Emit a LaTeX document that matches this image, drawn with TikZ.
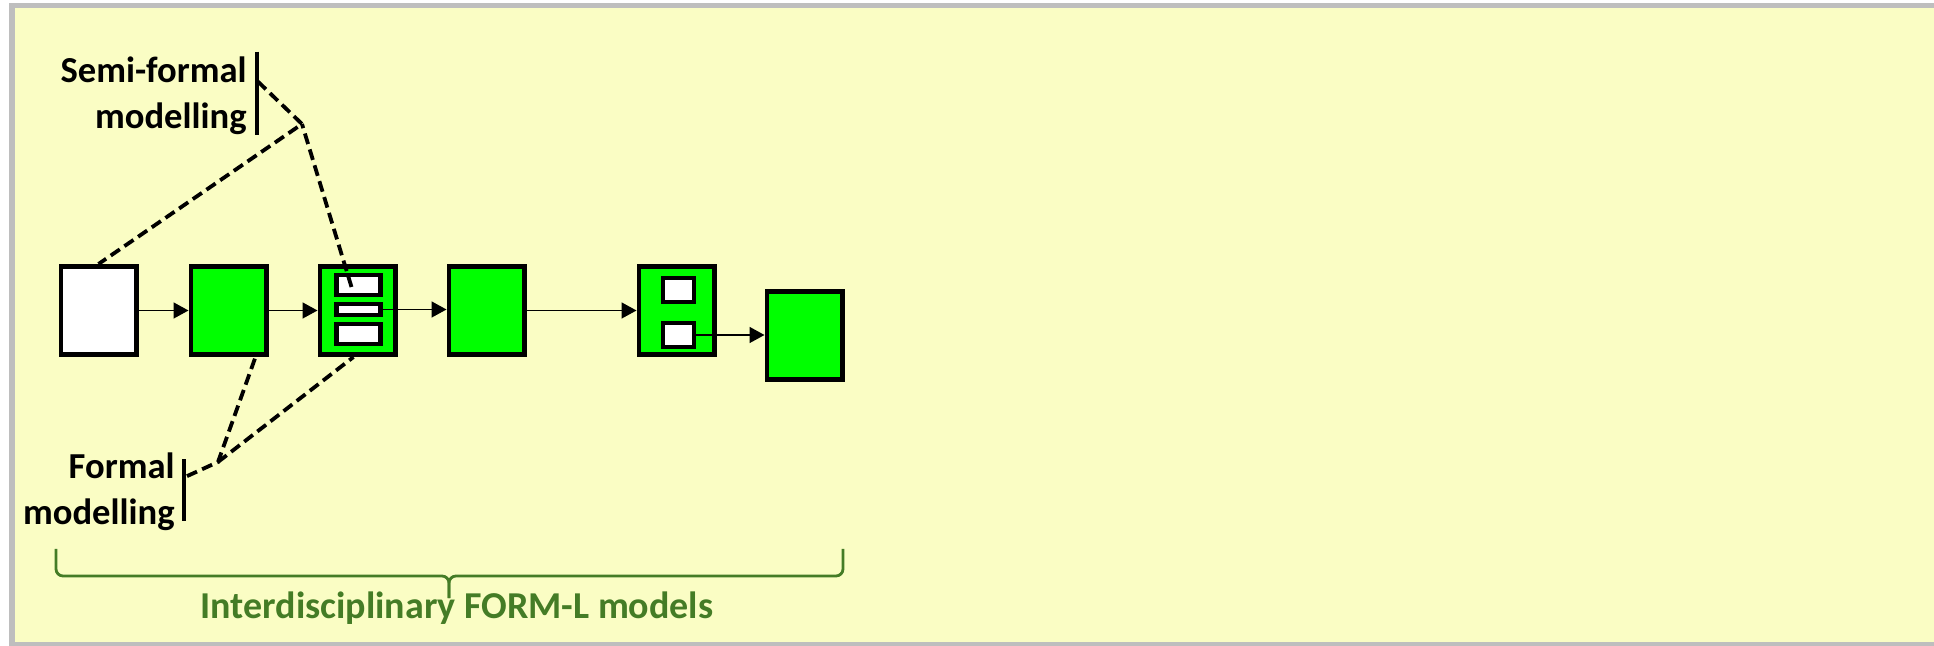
\documentclass[tikz,border=0pt]{standalone}
\usepackage{fontspec}
\setmainfont{Carlito}
\usepackage{xcolor}
\usepackage{tikz}
\usetikzlibrary{arrows.meta,positioning}

\definecolor{paper}{RGB}{250,253,196}
\definecolor{frame}{RGB}{190,190,190}
\definecolor{boxgreen}{RGB}{0,255,0}
\definecolor{spangreen}{RGB}{68,124,38}

\begin{document}
\begin{tikzpicture}[
    x=0.5pt,
    y=-0.5pt,
    modelbox/.style={
        draw=black,
        line width=2.3pt,
        fill=boxgreen,
        minimum width=37.7pt,
        minimum height=44.2pt,
        inner sep=0pt
    },
    slot/.style={
        draw=black,
        line width=2.1pt,
        fill=white,
        inner sep=0pt
    },
    flow/.style={
        line width=0.8pt,
        -{Triangle[length=7.5pt,width=8pt]}
    },
    annot/.style={
        line width=1.9pt,
        dash pattern=on 5.5pt off 2.8pt
    },
    levelbar/.style={line width=1.8pt},
    levellabel/.style={
        align=right,
        anchor=east,
        inner sep=0pt,
        font=\fontsize{18.3}{23}\selectfont\bfseries
    }
]

% ---------------------------------------------------------
% Page frame
% ---------------------------------------------------------

\useasboundingbox (0,0) rectangle (1934,646);
\clip (0,0) rectangle (1934,646);

\draw[fill=paper,draw=frame,line width=2.9pt]
    (12,5.5) rectangle (1945,644.5);

% ---------------------------------------------------------
% Model chain
% ---------------------------------------------------------

\node[modelbox,fill=white] (m1) at (98.5,310.5) {};
\node[modelbox,right=25pt of m1] (m2) {};
\node[modelbox,right=24.5pt of m2] (m3) {};
\node[modelbox,right=24.5pt of m3] (m4) {};
\node[modelbox,right=55pt of m4] (m5) {};
\node[modelbox,right=24pt of m5,yshift=-12.5pt] (m6) {};

% sub-models in m3
\node[slot,minimum width=22pt,minimum height=10pt]
    (m3a) at ([xshift=0.5pt,yshift=12.75pt]m3.center) {};
\node[slot,minimum width=22pt,minimum height=5.5pt]
    (m3b) at ([xshift=0.5pt,yshift=0.5pt]m3.center) {};
\node[slot,minimum width=22pt,minimum height=10pt]
    (m3c) at ([xshift=0.5pt,yshift=-11.75pt]m3.center) {};

% sub-models in m5
\node[slot,minimum width=15.5pt,minimum height=12pt]
    (m5a) at ([xshift=1pt,yshift=10.25pt]m5.center) {};
\node[slot,minimum width=15.5pt,minimum height=12pt]
    (m5b) at ([xshift=1pt,yshift=-12.25pt]m5.center) {};

\draw[flow] (m1) -- (m2);
\draw[flow] (m2) -- (m3);
\draw[flow] (m3b.east) -- (m3b.east -| m4.west);
\draw[flow] (m4) -- (m5);
\draw[flow] (m5b.east) -- (m5b.east -| m6.west);

% ---------------------------------------------------------
% Semi-formal modelling
% ---------------------------------------------------------

\node[levellabel] (semi) at (247,96)
{
Semi-formal\\
modelling
};

\draw[levelbar]
    ([xshift=5pt,yshift=2.5pt]semi.north east)
    -- ([xshift=5pt]semi.south east);

\coordinate (semibar) at ([xshift=5.5pt,yshift=-12.5pt]semi.north east);
\coordinate (semihub) at (302,124);
\coordinate (semiend) at ([xshift=-3.5pt,yshift=-1pt]m3a.center);

\draw[annot] (semibar) -- (semihub) -- (m1.north);
\draw[annot] (semiend) -- (semihub);

% ---------------------------------------------------------
% Formal modelling
% ---------------------------------------------------------

\node[levellabel] (formal) at (175,491.5)
{
Formal\\
modelling
};

\draw[levelbar]
    ([xshift=4.5pt,yshift=-3.5pt]formal.north east)
    -- ([xshift=4.5pt,yshift=5pt]formal.south east);

\coordinate (formbar) at ([xshift=6pt,yshift=-12pt]formal.north east);
\coordinate (formhub) at (218,462);

\draw[annot] (formbar) -- (formhub) -- ([xshift=13.5pt]m2.south);
\draw[annot] (formhub) -- ([xshift=-2pt]m3.south);

% ---------------------------------------------------------
% Span of the interdisciplinary models
% ---------------------------------------------------------

\draw[spangreen,line width=1.4pt,rounded corners=3.5pt]
    (56,549) |- (449,576) -- (449,598);
\draw[spangreen,line width=1.4pt,rounded corners=3.5pt]
    (843,549) |- (449,576) -- (449,598);

\node[
    anchor=base,
    text=spangreen,
    font=\fontsize{19}{23}\selectfont\bfseries
] (span) at (457,618)
{Interdisciplinary FORM-L models};

\end{tikzpicture}
\end{document}
